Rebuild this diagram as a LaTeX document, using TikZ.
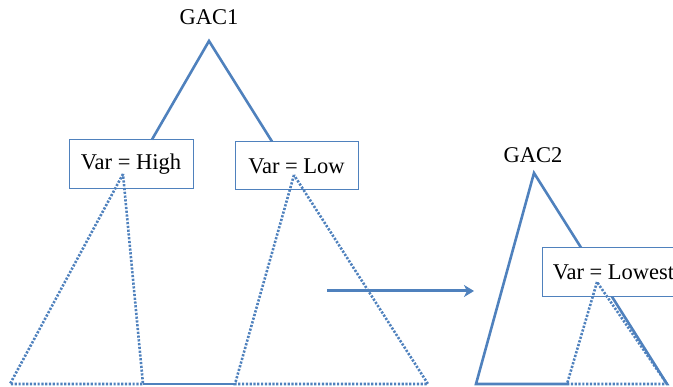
\documentclass[tikz,border=0pt]{standalone}
\usepackage{fontspec}
\setmainfont{Liberation Serif}
\usetikzlibrary{arrows.meta}
\definecolor{treeblue}{RGB}{79,129,189}
\begin{document}
\begin{tikzpicture}[x=1pt,y=-1pt]
	\tikzset{
		every node/.style={font=\fontsize{22.5}{26}\selectfont},
		branch/.style={treeblue, line width=2.6pt, line join=miter},
		subtree/.style={treeblue, line width=2.6pt, dash pattern=on 2.2pt off 1.6pt},
		varbox/.style={draw=treeblue, line width=1pt, fill=white, inner sep=0pt}
	}
	\useasboundingbox (0,0) rectangle (673,387);
	% tree GAC1
	\node (gac1) at (209,17) {GAC1};
	\coordinate (top1) at (209,41);
	\node[varbox, minimum width=124pt, minimum height=49pt] (high) at (131,164.5) {Var = High};
	\node[varbox, minimum width=123pt, minimum height=48pt] (low) at (296.5,166) {Var = Low};
	\draw[branch] ([xshift=21pt]high.north) -- (top1) -- ([xshift=-24.5pt]low.north);
	\coordinate (highroot) at (123,174);
	\coordinate (lowroot) at (294,175);
	\coordinate (b1) at (10,384);
	\coordinate (b2) at (143,384);
	\coordinate (b3) at (235,384);
	\coordinate (b4) at (428,384);
	\draw[branch] (b2) -- (b3);
	\draw[subtree] (highroot) -- (b1) -- (b2) -- cycle;
	\draw[subtree] (lowroot) -- (b3) -- (b4) -- cycle;
	% tree GAC2
	\node (gac2) at (533,155) {GAC2};
	\coordinate (top2) at (534,173);
	\coordinate (c1) at (476,384);
	\coordinate (c2) at (567,384);
	\coordinate (c3) at (667,384);
	\draw[branch] (c2) -- (c1) -- (top2) -- (c3);
	\node[varbox, minimum width=133pt, minimum height=49pt] (lowest) at (608.5,272.5) {\hspace*{10pt}Var = Lowest};
	\coordinate (lowestroot) at (597,282);
	\draw[subtree] (lowestroot) -- (c2) -- (c3) -- cycle;
	% move
	\coordinate (from) at (327,291);
	\coordinate (to) at (474,291);
	\draw[branch, line width=3pt, -{Stealth[length=10pt,width=12pt,inset=3pt]}] (from) -- (to);
\end{tikzpicture}
\end{document}
